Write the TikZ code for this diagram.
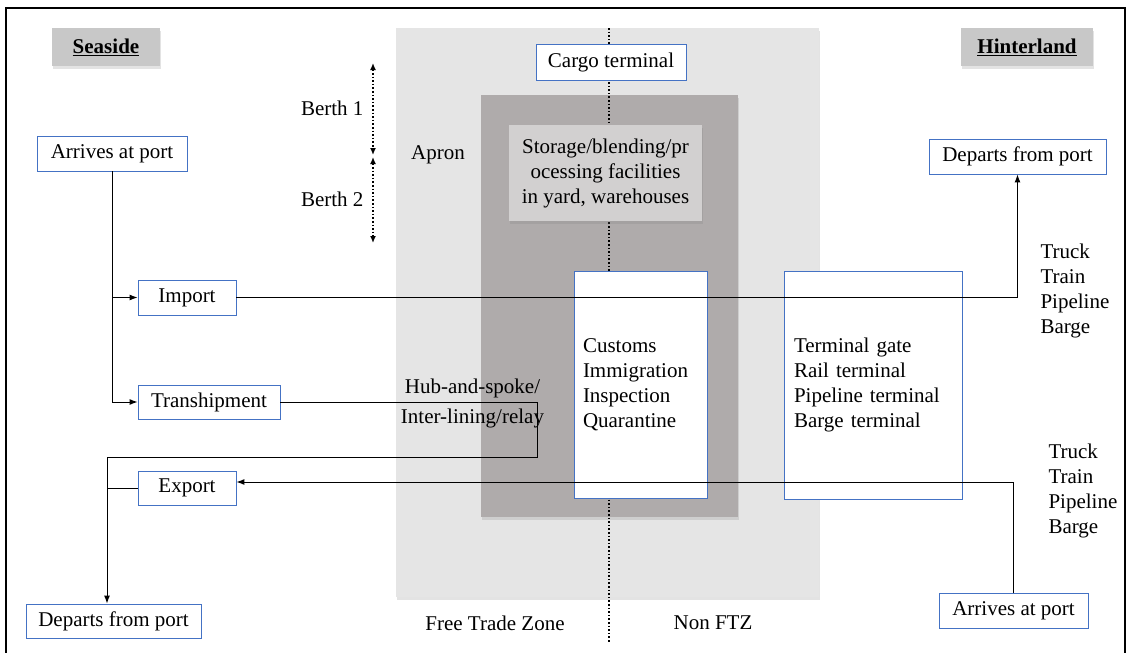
\documentclass[tikz,border=0pt]{standalone}
\usepackage{fontspec}
\setmainfont{Liberation Serif}
\usetikzlibrary{positioning,calc,arrows,arrows.meta,shadows}

\definecolor{boxblue}{RGB}{68,114,196}
\definecolor{ftzgray}{RGB}{229,229,229}
\definecolor{yardgray}{RGB}{175,171,171}
\definecolor{storgray}{RGB}{210,208,208}
\definecolor{headgray}{RGB}{200,200,200}

\tikzset{
	box/.style={draw=boxblue, fill=white, line width=0.9pt, inner sep=0pt},
	shade/.style={drop shadow={shadow xshift=1pt, shadow yshift=-2.5pt, opacity=0.22}},
	link/.style={line width=1pt, ->, >={Latex[length=8pt,width=6pt]}},
	berth/.style={dotted, line width=1.6pt, {Latex[length=7pt,width=6pt]}-{Latex[length=7pt,width=6pt]}},
}

\begin{document}
\begin{tikzpicture}[x=1pt, y=-1pt]
	\tikzstyle{every node}=[font=\fontsize{21}{25}\selectfont]
	\useasboundingbox (0,0) rectangle (1128,653);
	\draw [line width=2pt] (6,653) -- (6,8) -- (1125,8) -- (1125,653);

	% zones
	\node (ftz)  at (607.5, 312.5) [fill=ftzgray, shade, minimum width=423pt, minimum height=569pt] {};
	\node (yard) at (609.5, 306)   [fill=yardgray, shade, minimum width=257pt, minimum height=422pt] {};

	\coordinate (zt) at (609, 28);
	\coordinate (zb) at (609, 643);
	\draw [dotted, line width=1.6pt] (zt) to (zb);

	\node (sea) at (106, 47)    [fill=headgray, shade, minimum width=108pt, minimum height=38pt] {\underline{\textbf{Seaside}}};
	\node (hin) at (1027, 47)   [fill=headgray, shade, minimum width=132pt, minimum height=38pt] {\underline{\textbf{Hinterland}}};

	\node (cargo) at (611, 62)    [box, minimum width=150pt, minimum height=36pt] {Cargo terminal};
	\node (stor)  at (605.5, 173) [fill=storgray, shade, minimum width=193pt, minimum height=96pt, align=center]
		{Storage/blending/pr\\ocessing facilities\\in yard, warehouses};
	\node (cust)  at (640.5, 384.5) [box, minimum width=133pt, minimum height=227pt, text width=115pt, align=left]
		{Customs\\Immigration\\Inspection\\Quarantine};
	\node (gate)  at (873, 385)     [box, minimum width=178pt, minimum height=228pt, text width=158pt, align=left]
		{Terminal gate\\Rail terminal\\Pipeline terminal\\Barge terminal};

	\node (arl) at (112, 153.5)   [box, minimum width=150pt, minimum height=35pt] {Arrives at port};
	\node (imp) at (187, 297.5)   [box, minimum width=98pt, minimum height=35pt] {Import};
	\node (tra) at (209, 402)     [box, minimum width=142pt, minimum height=34pt] {Transhipment};
	\node (exp) at (187, 488)     [box, minimum width=98pt, minimum height=34pt] {Export};
	\node (dpl) at (113.5, 621)   [box, minimum width=175pt, minimum height=34pt] {Departs from port};
	\node (dpr) at (1017.5, 156.5) [box, minimum width=177pt, minimum height=35pt] {Departs from port};
	\node (arr) at (1013.5, 610.5) [box, minimum width=149pt, minimum height=35pt] {Arrives at port};

	\node (b1)   at (367, 108) [anchor=east] {Berth 1};
	\node (b2)   at (367, 199) [anchor=east] {Berth 2};
	\node (apr)  at (438, 155) {Apron};
	\node (hub)  at (472.5, 403) [align=center] {Hub-and-spoke/\\[5pt]Inter-lining/relay};
	\node (ftzl) at (495, 623) {Free Trade Zone};
	\node (non)  at (713, 623) {Non FTZ};
	\node (mdo)  at (1037, 291)   [anchor=west, align=left] {Truck\\Train\\Pipeline\\Barge};
	\node (mdi)  at (1045, 490.5) [anchor=west, align=left] {Truck\\Train\\Pipeline\\Barge};

	% berths
	\coordinate (b1t) at (373, 63);
	\coordinate (b1b) at (373, 155);
	\coordinate (b2t) at (373, 157);
	\coordinate (b2b) at (373, 243);
	\draw [berth] (b1t) to (b1b);
	\draw [berth] (b2t) to (b2b);

	% flows
	\draw [link] (arl.south) |- (imp.west);
	\draw [link] (arl.south) |- (tra.west);
	\draw [link] (imp.east) -| (dpr.south);

	\coordinate (relay) at (537, 457);
	\coordinate (turn)  at (107, 457);
	\draw [link] (tra.east) -| (relay) -- (turn) -- (turn |- dpl.north);
	\draw [line width=1pt] (exp.west) -- (exp.west -| turn);
	\draw [link] (arr.north) |- ($(exp.east)+(0,-6)$);
\end{tikzpicture}
\end{document}
